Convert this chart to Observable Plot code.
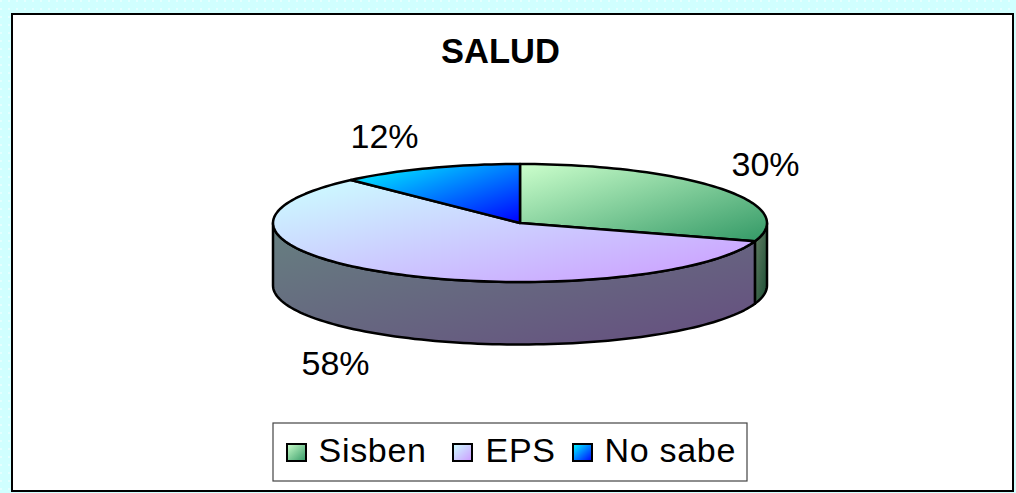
<!DOCTYPE html>
<html><head><meta charset="utf-8">
<script src="https://cdn.jsdelivr.net/npm/d3@7"></script>
<script src="https://cdn.jsdelivr.net/npm/@observablehq/plot@0.6"></script>
<style>
html,body{margin:0;padding:0;background:#d6ffff;overflow:hidden}
svg{display:block}
.legend-t{letter-spacing:.7px}
</style></head><body><div id="chart"></div>
<script>
const categories = ["Sisben", "EPS", "No sabe"];
const shares = [30, 58, 12];
const chartTitle = "SALUD";
const topStops = [["#ccffcc", "#339966"], ["#ccffff", "#cc99ff"], ["#00ffff", "#0000ff"]];
const sideStops = [["#668066", "#1a4d33"], ["#668080", "#664d80"], ["#008080", "#000080"]];

// layout of the tilted disc (pixels)
const cx = 519.5, cy = 222.5, rx = 247, ry = 59, depth = 62.5;
const W = 1016, H = 493, L = 12, T = 14, R = 1013, B = 491;

const pt = (a, dy = 0) => ({x: cx + rx * Math.sin(a), y: cy - ry * Math.cos(a) + dy});
const arcs = d3.pie().sort(null)(shares);
const arcPts = (a0, a1, dy = 0) => {
  const n = Math.max(2, Math.ceil((a1 - a0) / 0.03));
  return d3.range(n + 1).map(i => pt(a0 + (a1 - a0) * i / n, dy));
};
const topPoly = arcs.map(d => {
  const p = [{x: cx, y: cy}, ...arcPts(d.startAngle, d.endAngle)];
  return [...p, p[0]];
});
// visible wall: front half of each slice (angle between 90 and 270 degrees)
const sidePoly = arcs.map(d => {
  const a0 = Math.max(d.startAngle, Math.PI / 2), a1 = Math.min(d.endAngle, 3 * Math.PI / 2);
  if (a1 <= a0) return null;
  const p = [...arcPts(a0, a1), ...arcPts(a0, a1, depth).reverse()];
  return [...p, p[0]];
});

const gradient = (id, [c0, c1]) => {
  const g = d3.create("svg:linearGradient").attr("id", id)
    .attr("x1", 0).attr("y1", 0).attr("x2", 1).attr("y2", 1);
  g.append("stop").attr("offset", "0%").attr("stop-color", c0);
  g.append("stop").attr("offset", "100%").attr("stop-color", c1);
  return g.node();
};
const defsMark = () => {
  const defs = d3.create("svg:defs");
  categories.forEach((c, i) => {
    defs.append(() => gradient("top" + i, topStops[i]));
    defs.append(() => gradient("side" + i, sideStops[i]));
  });
  const pat = defs.append("pattern").attr("id", "bgp").attr("width", 8).attr("height", 8)
    .attr("patternUnits", "userSpaceOnUse");
  pat.append("rect").attr("width", 8).attr("height", 8).attr("fill", "#d0ffff");
  pat.append("rect").attr("width", 2).attr("height", 2).attr("fill", "#e4ffff");
  return defs.node();
};

const labelPos = [[765, 165], [335, 364], [384, 137]];
const legendSwatchX = [287, 453, 573];
const legendTextX = [318, 485, 604];
const sty = {fontFamily: "'Liberation Sans', Arial, sans-serif"};

const plot = Plot.plot({
  width: W, height: H,
  marginLeft: 0, marginTop: 0, marginRight: 0, marginBottom: 0,
  x: {domain: [0, W], range: [0, W], axis: null},
  y: {domain: [0, H], range: [0, H], axis: null},
  marks: [
    defsMark,
    Plot.rect([{}], {x1: 0, x2: W, y1: 0, y2: H, fill: "url(#bgp)"}),
    Plot.rect([{}], {x1: L, x2: R, y1: T, y2: B, fill: "#fff", stroke: "#000", strokeWidth: 2}),
    ...sidePoly.map((p, i) => p ? Plot.line(p, {x: "x", y: "y", fill: `url(#side${i})`, stroke: "#000", strokeWidth: 2.5, strokeLinejoin: "round"}) : null),
    ...topPoly.map((p, i) => Plot.line(p, {x: "x", y: "y", fill: `url(#top${i})`, stroke: "#000", strokeWidth: 2.5, strokeLinejoin: "round"})),
    Plot.text(shares.map((v, i) => ({t: v + "%", x: labelPos[i][0], y: labelPos[i][1]})), {x: "x", y: "y", text: "t", fontSize: 34, fill: "#000", ...sty}),
    Plot.text([chartTitle], {x: [500], y: [51], text: d => d, fontSize: 34.5, fontWeight: "bold", fill: "#000", ...sty}),
    Plot.rect([{}], {x1: 273, x2: 747, y1: 423, y2: 481, fill: "#fff", stroke: "#444", strokeWidth: 1.2}),
    ...categories.map((c, i) => Plot.rect([{}], {x1: legendSwatchX[i], x2: legendSwatchX[i] + 19, y1: 444, y2: 461, fill: `url(#top${i})`, stroke: "#000", strokeWidth: 2})),
    Plot.text(categories, {x: (d, i) => legendTextX[i], y: () => 451, text: d => d, textAnchor: "start", fontSize: 34, fill: "#000", className: "legend-t", ...sty})
  ].filter(Boolean)
});
document.getElementById("chart").append(plot);
</script></body></html>
